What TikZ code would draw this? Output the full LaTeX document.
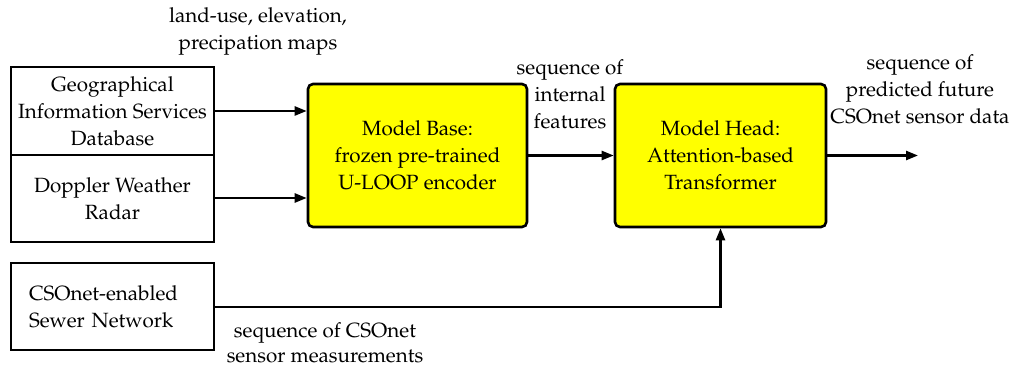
\documentclass[tikz,border=0pt]{standalone}
\usepackage[T1]{fontenc}
\usepackage{mathpazo}
\usetikzlibrary{arrows.meta}
\definecolor{boxyellow}{RGB}{255,255,0}
\begin{document}
\begin{tikzpicture}[x=0.5pt,y=-0.5pt,
  font=\fontsize{10.3pt}{13.5pt}\selectfont,
  src/.style={draw, line width=1.3pt, minimum width=101.5pt, align=center, inner sep=0pt},
  model/.style={draw, line width=1.3pt, fill=boxyellow, rounded corners=2.5pt, minimum height=71.5pt, align=center, inner sep=0pt},
  conn/.style={line width=1.2pt, -{Triangle[length=6pt,width=4.5pt]}},
  lbl/.style={align=center, inner sep=0pt}]
\useasboundingbox (0,0) rectangle (1011,368);
\node[src, minimum height=44pt] (gis) at (112.5,111) {Geographical\\Information Services\\Database};
\node[src, minimum height=43.5pt] (radar) at (112.5,198.5) {Doppler Weather\\Radar};
\node[src, minimum height=43.5pt, text width=83.5pt, inner xsep=9pt, align=left] (sewer) at (112.5,306.5) {CSOnet-enabled\\Sewer Network};
\node[model, minimum width=109.5pt] (base) at (417.5,155.5) {Model Base:\\frozen pre-trained\\U-LOOP encoder};
\node[model, minimum width=105.5pt] (head) at (720.5,155.5) {Model Head:\\Attention-based\\Transformer};
\coordinate (out) at (918,155.5);
\coordinate (turn) at (720.5,307);
\draw[conn] (gis.east |- 0,111) -- (base.west |- 0,111);
\draw[conn] (radar.east |- 0,198) -- (base.west |- 0,198);
\draw[conn] (base) -- (head);
\draw[conn] (head) -- (out);
\draw[conn] (sewer.east |- turn) -- (turn) -- (head.south);
\node[lbl] (l1) at (258,31) {land-use, elevation,\\precipation maps};
\node[lbl] (l2) at (570,94) {sequence of\\internal\\features};
\node[lbl] (l3) at (920,89) {sequence of\\predicted future\\CSOnet sensor data};
\node[lbl, font=\fontsize{10.3pt}{12.5pt}\selectfont] (l4) at (325,343) {sequence of CSOnet\\sensor measurements};
\end{tikzpicture}
\end{document}
